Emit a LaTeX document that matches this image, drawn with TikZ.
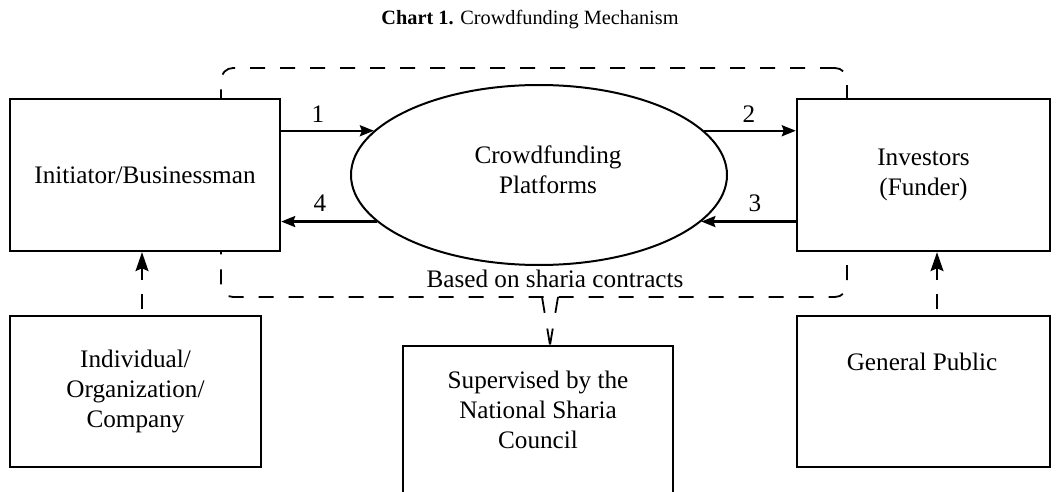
\documentclass[tikz,border=0pt]{standalone}
\usepackage{fontspec}
\setmainfont{Liberation Serif}
\usetikzlibrary{arrows.meta,shapes.geometric}
\begin{document}
\begin{tikzpicture}[x=1pt,y=-1pt,
  box/.style={draw, line width=2.4pt, fill=white, inner sep=0pt},
  txt/.style={font=\fontsize{25.2}{30}\selectfont, align=center, inner sep=0pt},
  ttl/.style={font=\fontsize{20.3}{24}\selectfont, inner sep=0pt},
  arr/.style={line width=2.4pt, -{Stealth[length=14pt,width=11pt,inset=2pt]}},
  dasharr/.style={line width=1.8pt, dash pattern=on 15pt off 14pt, dash phase=23pt, -{Stealth[length=19pt,width=13pt,inset=3pt]}},
  dashln/.style={line width=1.8pt, dash pattern=on 15pt off 15pt},
]
\useasboundingbox (0,0) rectangle (1060,492);
\clip (0,0) rectangle (1060,492);

\node[ttl] (title) at (530,20) {\textbf{Chart 1.} Crowdfunding Mechanism};

\node[draw, dashln, rounded corners=12pt, minimum width=626pt, minimum height=229pt, inner sep=0pt] (sharia) at (534,182.5) {};

\node[box, txt, minimum width=270pt, minimum height=152pt] (init) at (145,175) {Initiator/Businessman};
\node[box, txt, minimum width=253pt, minimum height=152pt] (inv) at (923.5,175) {Investors\\(Funder)};
\node[box, txt, minimum width=251pt, minimum height=151pt] (ind) at (135.5,391.5) {Individual/\\Organization/\\Company};
\node[box, minimum width=253pt, minimum height=151pt] (pub) at (923.5,391.5) {};
\node[txt] (publbl) at (922,362) {General Public};
\node[box, minimum width=270pt, minimum height=200pt, anchor=north] (sup) at (538,345) {};
\node[txt] (suplbl) at (538,410) {Supervised by the\\National Sharia\\Council};

\node[draw, ellipse, line width=2pt, minimum width=376pt, minimum height=180pt, inner sep=0pt] (plat) at (539,175) {};
\node[txt] (platlbl) at (548,170) {Crowdfunding\\Platforms};

\node[txt, anchor=base] (basis) at (555,287) {Based on sharia contracts};

\draw[arr] (init.east |- plat.165) -- (plat.165);
\draw[arr] (plat.15) -- (inv.west |- plat.15);
\draw[arr] (inv.west |- plat.-16.3) -- (plat.-16.3);
\draw[arr] (plat.196.3) -- (init.east |- plat.196.3);

\node[txt] (n1) at (318,114) {1};
\node[txt] (n2) at (749,114) {2};
\node[txt] (n3) at (755,203) {3};
\node[txt] (n4) at (320,203) {4};

\coordinate (la) at (142,0);
\coordinate (ra) at (937,0);
\draw[dasharr] (ind.north -| la) -- (init.south -| la);
\draw[dasharr] (pub.north -| ra) -- (inv.south -| ra);

\coordinate (vl) at (542,297);
\coordinate (vr) at (558,297);
\coordinate (vt) at (550,345);
\draw[dashln, dash pattern=on 16pt off 16pt] (vl) -- (vt);
\draw[dashln, dash pattern=on 16pt off 16pt] (vr) -- (vt);
\end{tikzpicture}
\end{document}
